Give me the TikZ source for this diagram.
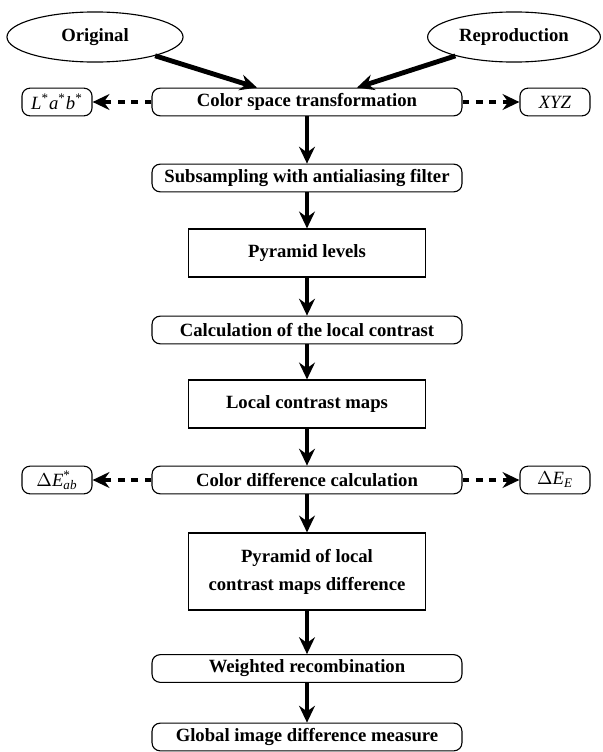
\documentclass[tikz,border=0pt]{standalone}
\usepackage{fontspec}
\setmainfont{Liberation Serif}
\usepackage{tikz}
\usetikzlibrary{shapes.geometric,arrows.meta,calc}
\tikzset{
  flround/.style={
    rectangle, rounded corners=4.3pt, draw=black, line width=0.6pt,
    minimum width=165.8pt, minimum height=14.8pt,
    align=center, font=\bfseries, inner sep=1pt
  },
  flbox/.style={
    rectangle, draw=black, line width=0.6pt,
    minimum width=126.8pt, minimum height=25.7pt,
    align=center, font=\bfseries, inner sep=2pt
  },
  flell/.style={ellipse, draw=black, line width=0.6pt, minimum height=26.8pt, font=\bfseries},
  flside/.style={flround, font=\normalfont, minimum width=37.5pt},
  flarrow/.style={-{Stealth[length=9pt,width=8.5pt,inset=3pt]}, line width=2.6pt},
  fldash/.style={flarrow, dash pattern=on 3.6pt off 3.6pt},
}

\begin{document}
\begin{tikzpicture}[x=0.535pt, y=-0.535pt]
  \useasboundingbox (0,0) rectangle (602,752);
  % inputs
  \node (orig) [flell, minimum width=94.2pt] at (95,37) {Original};
  \node (repr) [flell, minimum width=88.8pt] at (514,37) {Reproduction};
  % main chain
  \node (cst) [flround] at (307,102) {Color space transformation};
  \node (lab) [flside] at (57,102) {\textit{L}\textsuperscript{*}\textit{a}\textsuperscript{*}\textit{b}\textsuperscript{*}};
  \node (xyz) [flside] at (555,102) {\textit{XYZ}};
  \node (sub) [flround] at (307,178) {Subsampling with antialiasing filter};
  \node (pyr) [flbox] at (307,253) {Pyramid levels};
  \node (calc) [flround] at (307,330) {Calculation of the local contrast};
  \node (lcm) [flbox] at (307,404) {Local contrast maps};
  \node (cdiff) [flround] at (307,480) {Color difference calculation};
  \node (dab) [flside] at (57,480) {$\Delta$\textit{E}\rlap{\textsuperscript{*}}\textsubscript{\textit{ab}}};
  \node (dee) [flside] at (555,480) {$\Delta$\textit{E}\textsubscript{\textit{E}}};
  \node (pdiff) [flbox, minimum height=41.2pt] at (307,571.5) {Pyramid of local\\[3pt]contrast maps difference};
  \node (wrec) [flround] at (307,668.5) {Weighted recombination};
  \node (glob) [flround] at (307,737) {Global image difference measure};

  \draw[flarrow] (orig) -- ($(cst.north)+(-50,0)$);
  \draw[flarrow] (repr) -- ($(cst.north)+(50,0)$);
  \draw[fldash] (cst) -- (lab);
  \draw[fldash] (cst) -- (xyz);
  \draw[flarrow] (cst) -- (sub);
  \draw[flarrow] (sub) -- (pyr);
  \draw[flarrow] (pyr) -- (calc);
  \draw[flarrow] (calc) -- (lcm);
  \draw[flarrow] (lcm) -- (cdiff);
  \draw[fldash] (cdiff) -- (dab);
  \draw[fldash] (cdiff) -- (dee);
  \draw[flarrow] (cdiff) -- (pdiff);
  \draw[flarrow] (pdiff) -- (wrec);
  \draw[flarrow] (wrec) -- (glob);
\end{tikzpicture}
\end{document}
